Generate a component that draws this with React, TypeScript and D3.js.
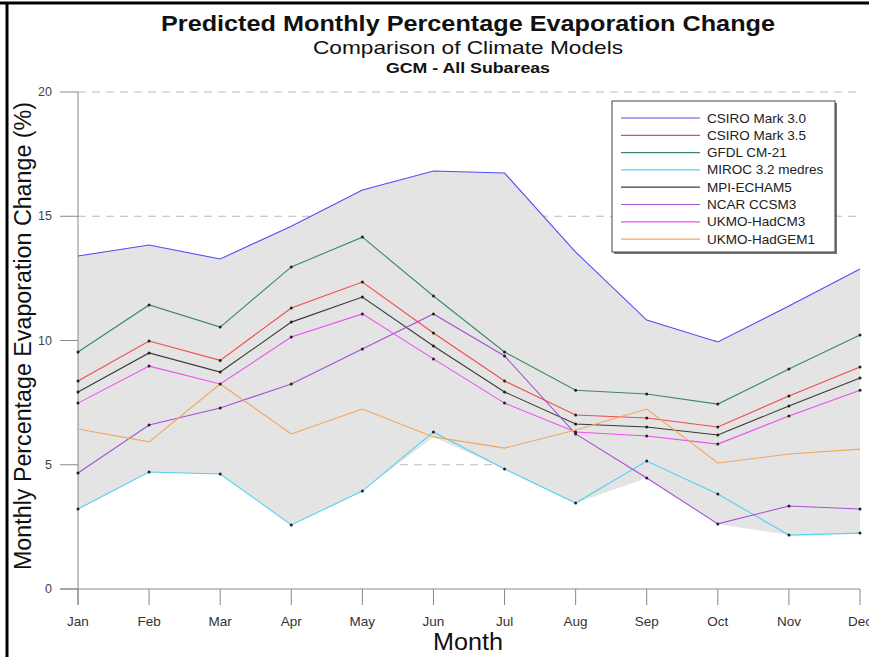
import React, { useEffect, useRef } from "react";
import * as d3 from "d3";

const months = ["Jan","Feb","Mar","Apr","May","Jun","Jul","Aug","Sep","Oct","Nov","Dec"];
const yTicks = [0, 5, 10, 15, 20];

const seriesNames = ["CSIRO Mark 3.0","CSIRO Mark 3.5","GFDL CM-21","MIROC 3.2 medres","MPI-ECHAM5","NCAR CCSM3","UKMO-HadCM3","UKMO-HadGEM1"];
const seriesColors = ["#4f4ff5","#f24a4a","#3a8a66","#4fd3ef","#3a3a3a","#a650d6","#f04cf0","#f5a55a"];
const seriesDots = [false,true,true,true,true,true,true,false];

const csiro30 = [13.4,13.84,13.28,14.6,16.06,16.82,16.74,13.56,10.82,9.94,11.39,12.88];
const csiro35 = [8.37,9.98,9.2,11.31,12.35,10.3,8.37,7.0,6.88,6.52,7.77,8.93];
const gfdl = [9.54,11.43,10.54,12.96,14.16,11.79,9.54,8.0,7.85,7.44,8.85,10.22];
const miroc = [3.22,4.71,4.63,2.58,3.94,6.32,4.83,3.46,5.15,3.82,2.17,2.25];
const mpi = [7.93,9.5,8.73,10.74,11.75,9.78,7.93,6.64,6.52,6.2,7.36,8.49];
const ncar = [4.67,6.6,7.28,8.25,9.66,11.07,9.38,6.24,4.47,2.62,3.34,3.22];
const hadcm3 = [7.48,8.97,8.25,10.14,11.07,9.26,7.48,6.32,6.16,5.83,6.96,8.0];
const hadgem1 = [6.44,5.92,8.25,6.24,7.24,6.12,5.67,6.4,7.24,5.07,5.43,5.63];

const seriesValues = [csiro30, csiro35, gfdl, miroc, mpi, ncar, hadcm3, hadgem1];

export default function App() {
  const ref = useRef<SVGSVGElement>(null);
  useEffect(() => {
    const svg = d3.select(ref.current);
    svg.selectAll("*").remove();
    const W = 869, H = 657;
    const x = d3.scalePoint<string>().domain(months).range([78, 860]);
    const y = d3.scaleLinear().domain([0, 20]).range([589, 92]);
    const font = "Arial, 'Liberation Sans', sans-serif";

    svg.append("rect").attr("width", W).attr("height", H).attr("fill", "#fff");
    // border
    svg.append("line").attr("x1", 0).attr("x2", W).attr("y1", 3).attr("y2", 3).attr("stroke", "#000").attr("stroke-width", 3);
    svg.append("line").attr("x1", 7).attr("x2", 7).attr("y1", 2).attr("y2", H).attr("stroke", "#000").attr("stroke-width", 3);

    // titles
    svg.append("text").attr("x", 468).attr("y", 31).attr("text-anchor", "middle")
      .attr("font-family", font).attr("font-size", 22).attr("font-weight", "bold").attr("fill", "#111")
      .attr("textLength", 614).attr("lengthAdjust", "spacingAndGlyphs")
      .text("Predicted Monthly Percentage Evaporation Change");
    svg.append("text").attr("x", 468).attr("y", 54).attr("text-anchor", "middle")
      .attr("font-family", font).attr("font-size", 19).attr("fill", "#111")
      .attr("textLength", 310).attr("lengthAdjust", "spacingAndGlyphs")
      .text("Comparison of Climate Models");
    svg.append("text").attr("x", 468).attr("y", 73).attr("text-anchor", "middle")
      .attr("font-family", font).attr("font-size", 14).attr("font-weight", "bold").attr("fill", "#111")
      .attr("textLength", 164).attr("lengthAdjust", "spacingAndGlyphs")
      .text("GCM - All Subareas");

    // gridlines
    yTicks.filter(t => t > 0).forEach(t => {
      svg.append("line").attr("x1", 78).attr("x2", 860).attr("y1", y(t)).attr("y2", y(t))
        .attr("stroke", "#bbb").attr("stroke-width", 1).attr("stroke-dasharray", "8,6");
    });

    // band
    const maxs = months.map((_, i) => d3.max(seriesValues, s => s[i]) as number);
    const mins = months.map((_, i) => d3.min(seriesValues, s => s[i]) as number);
    const area = d3.area<number>()
      .x((_, i) => x(months[i]) as number)
      .y0((_, i) => y(mins[i]))
      .y1((_, i) => y(maxs[i]));
    svg.append("path").attr("d", area(months.map((_, i) => i)) as string).attr("fill", "#e4e4e4");

    // axes
    const axisColor = "#888";
    svg.append("line").attr("x1", 78).attr("x2", 78).attr("y1", y(20)).attr("y2", 605).attr("stroke", axisColor);
    svg.append("line").attr("x1", 60).attr("x2", 860).attr("y1", y(0)).attr("y2", y(0)).attr("stroke", axisColor);
    yTicks.forEach(t => {
      svg.append("line").attr("x1", 60).attr("x2", 78).attr("y1", y(t)).attr("y2", y(t)).attr("stroke", axisColor);
      svg.append("text").attr("x", 52).attr("y", y(t) + 4).attr("text-anchor", "end")
        .attr("font-family", font).attr("font-size", 12.5).attr("fill", "#444").text(String(t));
    });
    months.forEach(m => {
      const xx = x(m) as number;
      svg.append("line").attr("x1", xx).attr("x2", xx).attr("y1", y(0)).attr("y2", 605).attr("stroke", axisColor);
      svg.append("text").attr("x", xx).attr("y", 626).attr("text-anchor", "middle")
        .attr("font-family", font).attr("font-size", 13.5).attr("fill", "#333").text(m);
    });
    svg.append("text").attr("x", 468).attr("y", 650).attr("text-anchor", "middle")
      .attr("font-family", font).attr("font-size", 23).attr("fill", "#111")
      .attr("textLength", 70).attr("lengthAdjust", "spacingAndGlyphs").text("Month");
    svg.append("text").attr("transform", "translate(31,336) rotate(-90)").attr("text-anchor", "middle")
      .attr("font-family", font).attr("font-size", 23).attr("fill", "#111")
      .attr("textLength", 468).attr("lengthAdjust", "spacingAndGlyphs")
      .text("Monthly Percentage Evaporation Change (%)");

    // lines
    const line = d3.line<number>().x((_, i) => x(months[i]) as number).y(d => y(d));
    seriesValues.forEach((vals, si) => {
      svg.append("path").attr("d", line(vals) as string).attr("fill", "none")
        .attr("stroke", seriesColors[si]).attr("stroke-width", 1.1);
    });
    seriesValues.forEach((vals, si) => {
      if (!seriesDots[si]) return;
      vals.forEach((v, i) => {
        svg.append("circle").attr("cx", x(months[i]) as number).attr("cy", y(v)).attr("r", 1.5).attr("fill", "#222");
      });
    });

    // legend
    const lx = 612, ly = 101, lw = 223, lh = 151;
    svg.append("rect").attr("x", lx + 2).attr("y", ly + 2).attr("width", lw).attr("height", lh).attr("fill", "#777");
    svg.append("rect").attr("x", lx).attr("y", ly).attr("width", lw).attr("height", lh).attr("fill", "#fff").attr("stroke", "#444");
    seriesNames.forEach((n, i) => {
      const yy = ly + 17 + i * 17.3;
      svg.append("line").attr("x1", lx + 9).attr("x2", lx + 88).attr("y1", yy).attr("y2", yy)
        .attr("stroke", seriesColors[i]).attr("stroke-width", 1.2);
      svg.append("text").attr("x", lx + 95).attr("y", yy + 4.5).attr("font-family", font).attr("font-size", 13.5)
        .attr("fill", "#222").text(n);
    });
  }, []);
  return (
    <div style={{ position: "fixed", left: 0, top: 0 }}>
      <svg ref={ref} width={869} height={657} />
    </div>
  );
}
